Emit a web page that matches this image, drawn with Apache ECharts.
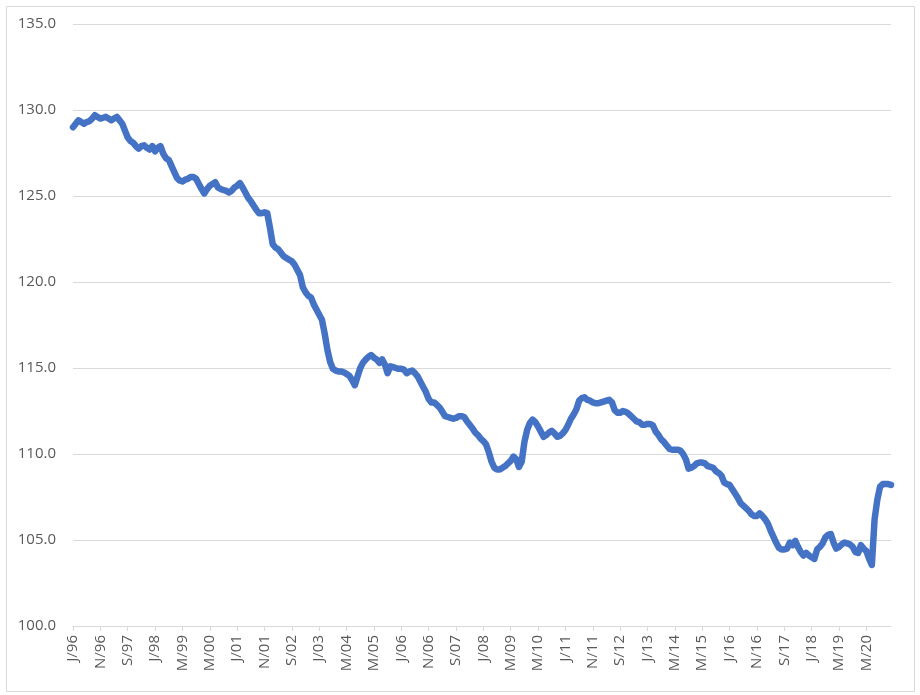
<!DOCTYPE html>
<html>
<head>
<meta charset="utf-8">
<script src="https://cdn.jsdelivr.net/npm/echarts@6/dist/echarts.min.js"></script>
<style>
html,body{margin:0;padding:0;background:#fff;}
#chart{width:920px;height:695px;}
</style>
</head>
<body>
<div id="chart"></div>
<script>
// Monthly index values, Jan 1996 .. Dec 2020
const values1996_2000 = [
  129.0,129.2,129.4,129.3,129.2,129.3,129.35,129.5,129.7,129.6,129.5,129.55,
  129.6,129.5,129.4,129.5,129.6,129.4,129.2,128.8,128.4,128.2,128.1,127.9,
  127.75,127.9,127.95,127.8,127.7,127.9,127.6,127.8,127.9,127.45,127.2,127.1,
  126.75,126.4,126.05,125.9,125.85,125.95,126.0,126.1,126.1,126.0,125.7,125.4,
  125.15,125.4,125.6,125.7,125.8,125.5,125.4,125.35,125.3,125.2,125.3,125.5
];
const values2001_2005 = [
  125.6,125.75,125.5,125.2,124.9,124.7,124.45,124.2,124.0,124.0,124.05,124.0,
  123.15,122.2,122.0,121.9,121.7,121.5,121.4,121.3,121.2,121.0,120.7,120.4,
  119.7,119.4,119.2,119.1,118.7,118.4,118.1,117.8,117.0,116.05,115.35,114.95,
  114.85,114.8,114.8,114.75,114.65,114.55,114.3,114.0,114.5,115.0,115.3,115.5,
  115.65,115.75,115.6,115.5,115.3,115.5,115.2,114.7,115.1,115.05,115.0,114.95
];
const values2006_2010 = [
  114.95,114.9,114.7,114.8,114.85,114.7,114.5,114.2,113.9,113.6,113.2,113.0,
  113.0,112.85,112.7,112.45,112.2,112.15,112.1,112.05,112.1,112.2,112.2,112.15,
  111.9,111.7,111.5,111.25,111.1,110.9,110.75,110.55,110.1,109.55,109.2,109.1,
  109.1,109.2,109.3,109.45,109.6,109.85,109.7,109.25,109.55,110.7,111.4,111.8,
  112.0,111.85,111.6,111.3,111.0,111.1,111.25,111.35,111.2,111.0,111.05,111.2
];
const values2011_2015 = [
  111.4,111.7,112.05,112.3,112.6,113.1,113.25,113.3,113.15,113.1,113.0,112.95,
  112.95,113.0,113.05,113.1,113.15,113.0,112.55,112.4,112.4,112.5,112.45,112.35,
  112.2,112.05,111.9,111.85,111.7,111.7,111.75,111.75,111.65,111.3,111.1,110.85,
  110.7,110.5,110.3,110.25,110.25,110.25,110.2,110.0,109.7,109.15,109.2,109.3,
  109.45,109.5,109.5,109.45,109.3,109.25,109.2,109.0,108.9,108.75,108.35,108.25
];
const values2016_2020 = [
  108.2,107.95,107.7,107.45,107.15,107.0,106.85,106.7,106.5,106.4,106.4,106.55,
  106.4,106.2,105.95,105.55,105.2,104.85,104.55,104.45,104.45,104.5,104.85,104.7,
  104.95,104.6,104.3,104.1,104.25,104.1,104.0,103.9,104.45,104.6,104.8,105.15,
  105.3,105.35,104.85,104.5,104.6,104.75,104.85,104.8,104.75,104.6,104.3,104.25,
  104.7,104.5,104.35,103.9,103.55,106.2,107.35,108.1,108.25,108.25,108.25,108.2
];
const monthLetters = ['J','F','M','A','M','J','J','A','S','O','N','D'];
const firstYear = 1996, lastYear = 2020;
const yTicks = {min:100, max:135, interval:5};

const values = [].concat(values1996_2000, values2001_2005, values2006_2010, values2011_2015, values2016_2020);
const categories = [];
for (let y = firstYear; y <= lastYear; y++) {
  for (let m = 0; m < 12; m++) {
    categories.push(monthLetters[m] + '/' + String(y % 100).padStart(2,'0'));
  }
}

const chart = echarts.init(document.getElementById('chart'));
chart.setOption({
  animation:false,
  backgroundColor:'#ffffff',
  graphic:[{
    type:'rect', left:4, top:4,
    shape:{width:908, height:685},
    style:{fill:'none', stroke:'#d9d9d9', lineWidth:1}
  }],
  grid:{left:73, right:29, top:24, bottom:69},
  xAxis:{
    type:'category',
    data:categories,
    boundaryGap:false,
    axisLine:{lineStyle:{color:'#d9d9d9', width:1}},
    axisTick:{show:true, interval:9, length:5, lineStyle:{color:'#d9d9d9'}},
    axisLabel:{
      interval:9, rotate:90, margin:9,
      color:'#595959', fontSize:15, fontFamily:'Open Sans'
    },
    splitLine:{show:false}
  },
  yAxis:{
    type:'value',
    min:yTicks.min, max:yTicks.max, interval:yTicks.interval,
    axisLine:{show:false},
    axisTick:{show:false},
    axisLabel:{
      color:'#595959', fontSize:15, fontFamily:'Open Sans', margin:17,
      formatter:v=>v.toFixed(1)
    },
    splitLine:{lineStyle:{color:'#d9d9d9', width:1}}
  },
  series:[{
    type:'line',
    data:values,
    showSymbol:false,
    symbol:'none',
    lineStyle:{color:'#4472C4', width:6.5, cap:'round', join:'round'},
    smooth:false
  }]
});
</script>
</body>
</html>
